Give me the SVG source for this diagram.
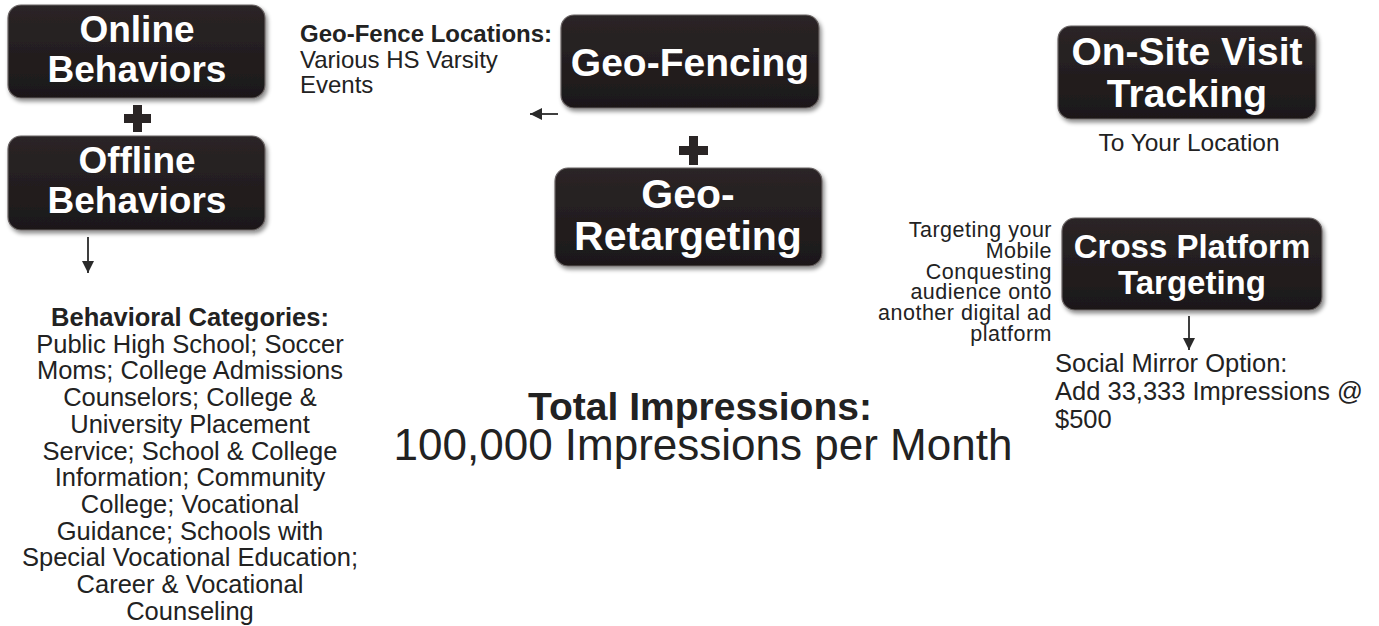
<svg xmlns="http://www.w3.org/2000/svg" width="1379" height="626" viewBox="0 0 1379 626">
<defs>
<filter id="sh" x="-10%" y="-10%" width="125%" height="130%">
<feDropShadow dx="2" dy="3" stdDeviation="2" flood-color="#000" flood-opacity="0.45"/>
</filter>
<linearGradient id="bg" x1="0" y1="0" x2="0" y2="1">
<stop offset="0" stop-color="#2b2526"/>
<stop offset="1" stop-color="#1c1819"/>
</linearGradient>
<marker id="ah" viewBox="0 0 10 10" refX="10" refY="5" markerWidth="13" markerHeight="12" markerUnits="userSpaceOnUse" orient="auto">
<path d="M0,0 L10,5 L0,10 Z" fill="#2a2a2a"/>
</marker>
</defs>
<style>
.box{fill:url(#bg);stroke:#6a6464;stroke-width:1.2;filter:url(#sh)}
.bt{fill:#fff;font-family:"Liberation Sans",Arial,sans-serif;font-weight:bold;text-anchor:middle}
.t{fill:#222;font-family:"Liberation Sans",Arial,sans-serif}
.b{font-weight:bold}
.plus{fill:#2a2525}
.conn{stroke:#2a2a2a;stroke-width:1.8;fill:none;marker-end:url(#ah)}
</style>
<rect width="1379" height="626" fill="#fff"/>

<g id="online">
<rect class="box" x="8" y="5" width="257" height="93" rx="13"/>
<text class="bt" x="137" y="42" font-size="37">Online</text>
<text class="bt" x="137" y="82" font-size="37">Behaviors</text>
</g>
<g id="plus1"><path class="plus" d="M133,105 h9 v9 h9 v9 h-9 v9 h-9 v-9 h-9 v-9 h9 Z"/></g>
<g id="offline">
<rect class="box" x="8" y="136" width="257" height="94" rx="13"/>
<text class="bt" x="137" y="173" font-size="37">Offline</text>
<text class="bt" x="137" y="213" font-size="37">Behaviors</text>
</g>

<g id="categories" class="t" font-size="25.5" text-anchor="middle">
<text x="190" y="326" class="b">Behavioral Categories:</text>
<text x="190" y="352.7">Public High School; Soccer</text>
<text x="190" y="379.4">Moms; College Admissions</text>
<text x="190" y="406.1">Counselors; College &amp;</text>
<text x="190" y="432.8">University Placement</text>
<text x="190" y="459.5">Service; School &amp; College</text>
<text x="190" y="486.2">Information; Community</text>
<text x="190" y="512.9">College; Vocational</text>
<text x="190" y="539.6">Guidance; Schools with</text>
<text x="190" y="566.3">Special Vocational Education;</text>
<text x="190" y="593">Career &amp; Vocational</text>
<text x="190" y="619.7">Counseling</text>
</g>

<g id="geofence-note" class="t" font-size="24">
<text x="300" y="42" class="b">Geo-Fence Locations:</text>
<text x="300" y="68">Various HS Varsity</text>
<text x="300" y="93">Events</text>
</g>

<g id="geofencing">
<rect class="box" x="561" y="15" width="258" height="93" rx="13"/>
<text class="bt" x="690" y="76" font-size="39">Geo-Fencing</text>
</g>
<g id="plus2"><path class="plus" d="M689,136 h9 v10 h10 v9 h-10 v10 h-9 v-10 h-10 v-9 h10 Z"/></g>
<g id="georetargeting">
<rect class="box" x="555" y="168" width="267" height="98" rx="13"/>
<text class="bt" x="688" y="208" font-size="41">Geo-</text>
<text class="bt" x="688" y="250" font-size="41">Retargeting</text>
</g>

<g id="total" class="t" text-anchor="middle">
<text x="700" y="420" font-size="39" class="b">Total Impressions:</text>
<text x="703" y="460" font-size="44">100,000 Impressions per Month</text>
</g>

<g id="onsite">
<rect class="box" x="1058" y="26" width="258" height="93" rx="13"/>
<text class="bt" x="1187" y="65" font-size="39">On-Site Visit</text>
<text class="bt" x="1187" y="107" font-size="39">Tracking</text>
</g>
<text class="t" x="1189" y="151" font-size="24.5" text-anchor="middle">To Your Location</text>

<g id="crossplatform">
<rect class="box" x="1062" y="218" width="260" height="92" rx="13"/>
<text class="bt" x="1192" y="258" font-size="33">Cross Platform</text>
<text class="bt" x="1192" y="294" font-size="33">Targeting</text>
</g>
<g id="cross-note">
<text class="t" font-size="21.5" letter-spacing="0.5" text-anchor="end" x="1052" y="237">Targeting your<tspan x="1052" dy="20.8">Mobile</tspan><tspan x="1052" dy="20.8">Conquesting</tspan><tspan x="1052" dy="20.8">audience onto</tspan><tspan x="1052" dy="20.8">another digital ad</tspan><tspan x="1052" dy="20.8">platform</tspan></text>
</g>
<g id="social" class="t" font-size="25.5">
<text x="1055" y="372">Social Mirror Option:</text>
<text x="1055" y="400">Add 33,333 Impressions @</text>
<text x="1055" y="428">$500</text>
</g>

<g id="connectors">
<line class="conn" x1="88" y1="237" x2="88" y2="273"/>
<line class="conn" x1="558" y1="114" x2="530" y2="114"/>
<line class="conn" x1="1189" y1="316" x2="1189" y2="350"/>
</g>
</svg>
